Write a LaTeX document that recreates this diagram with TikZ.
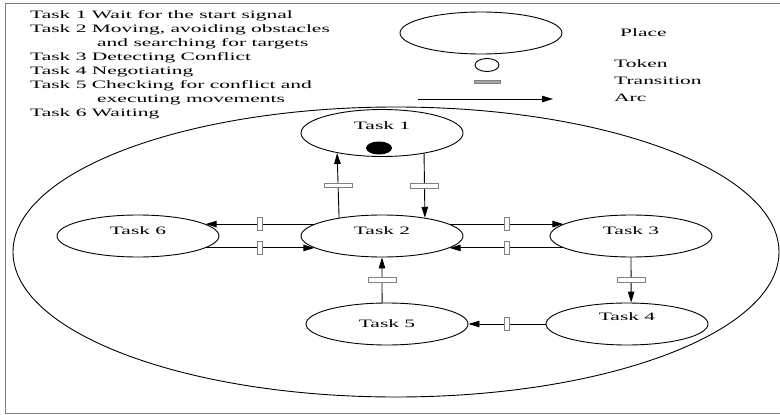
\documentclass[tikz,border=0pt]{standalone}
\usepackage{fontspec}
\setmainfont{Liberation Serif}
\newfontfamily\widefont{Liberation Serif}[FakeStretch=1.9]
\usepackage{tikz}
\usetikzlibrary{arrows.meta}
\usetikzlibrary{shapes.geometric}

\begin{document}
\begin{tikzpicture}[x=1pt,y=-1pt,
    place/.style={draw,ellipse,line width=0.9pt,minimum width=162pt,minimum height=42pt,inner sep=0pt,font=\widefont\fontsize{11.3}{13}\selectfont},
    tokn/.style={draw,ellipse,line width=0.9pt,minimum width=24pt,minimum height=13pt,inner sep=0pt},
    transh/.style={draw=gray,fill=white,line width=0.7pt,minimum width=28pt,minimum height=4.5pt,inner sep=0pt},
    transv/.style={draw=gray,fill=white,line width=0.7pt,minimum width=5pt,minimum height=13pt,inner sep=0pt},
    arc/.style={line width=0.9pt,-{Triangle[length=11pt,width=6.5pt]}},
    lbl/.style={anchor=west,inner sep=0pt,font=\widefont\fontsize{11.3}{13}\selectfont}]
            \useasboundingbox (0,0) rectangle (780,415);
            \draw [gray,line width=0.8pt] (780,3) -- (5,3) -- (5,413) -- (780,413); %%%%

            % task list
            \node[anchor=north west,align=left,inner sep=0pt,font=\widefont\fontsize{11.3}{14}\selectfont] (tasks) at (30,10)
                {Task 1 Wait for the start signal\\
                 Task 2 Moving, avoiding obstacles\\
                 \hspace*{67pt}and searching for targets\\
                 Task 3 Detecting Conflict\\
                 Task 4 Negotiating\\
                 Task 5 Checking for conflict and\\
                 \hspace*{67pt}executing movements\\
                 Task 6 Waiting};

            % legend
            \node[place] (lgplace) at (481,33) {};
            \node[tokn] (lgtoken) at (487,65) {};
            \node[draw=gray,fill=gray!70,minimum width=26pt,minimum height=3pt,inner sep=0pt] (lgtrans) at (487,82) {};
            \coordinate (arcA) at (418,99);
            \coordinate (arcB) at (553,99);
            \draw[arc] (arcA) -- (arcB);
            \node[lbl] (lplace) at (620,33) {Place};
            \node[lbl] (ltoken) at (614,64) {Token};
            \node[lbl] (ltrans) at (614,81) {Transition};
            \node[lbl] (larc) at (614,98) {Arc};

            %%%%%%%%%%%%%%%%
            \draw [line width=0.9pt] (396,252) ellipse [x radius=383, y radius=145];
            %%%%%%%%%%%%%%%%

            \node[place,minimum height=47pt,text depth=14pt] (t1) at (382,133) {Task 1};
            \node[ellipse,fill=black,minimum width=26pt,minimum height=13pt,inner sep=0pt] (tok1) at (379,148) {};
            \node[place,text depth=10pt] (t2) at (382,236) {Task 2};
            \node[place,text depth=10pt] (t6) at (138,236) {Task 6};
            \node[place,text depth=10pt] (t3) at (631,236) {Task 3};
            \node[place,text depth=14pt] (t4) at (627,324) {Task 4};
            \node[place] (t5) at (387,324) {Task 5};

            \draw[arc] (t2.157.5) -- node[transh]{} (t1.204.8);
            \draw[arc] (t1.-26.3) -- node[transh]{} (t2.23.8);
            \draw[arc] (t2.170) -- node[transv]{} (t6.10);
            \draw[arc] (t6.-10) -- node[transv]{} (t2.190);
            \draw[arc] (t2.10) -- node[transv]{} (t3.170);
            \draw[arc] (t3.190) -- node[transv]{} (t2.-10);
            \draw[arc] (t3.south) -- node[transh]{} (t4.79);
            \draw[arc] (t4.west) -- node[transv]{} (t5.east);
            \draw[arc] (t5.103.4) -- node[transh]{} (t2.south);
        \end{tikzpicture}
\end{document}
